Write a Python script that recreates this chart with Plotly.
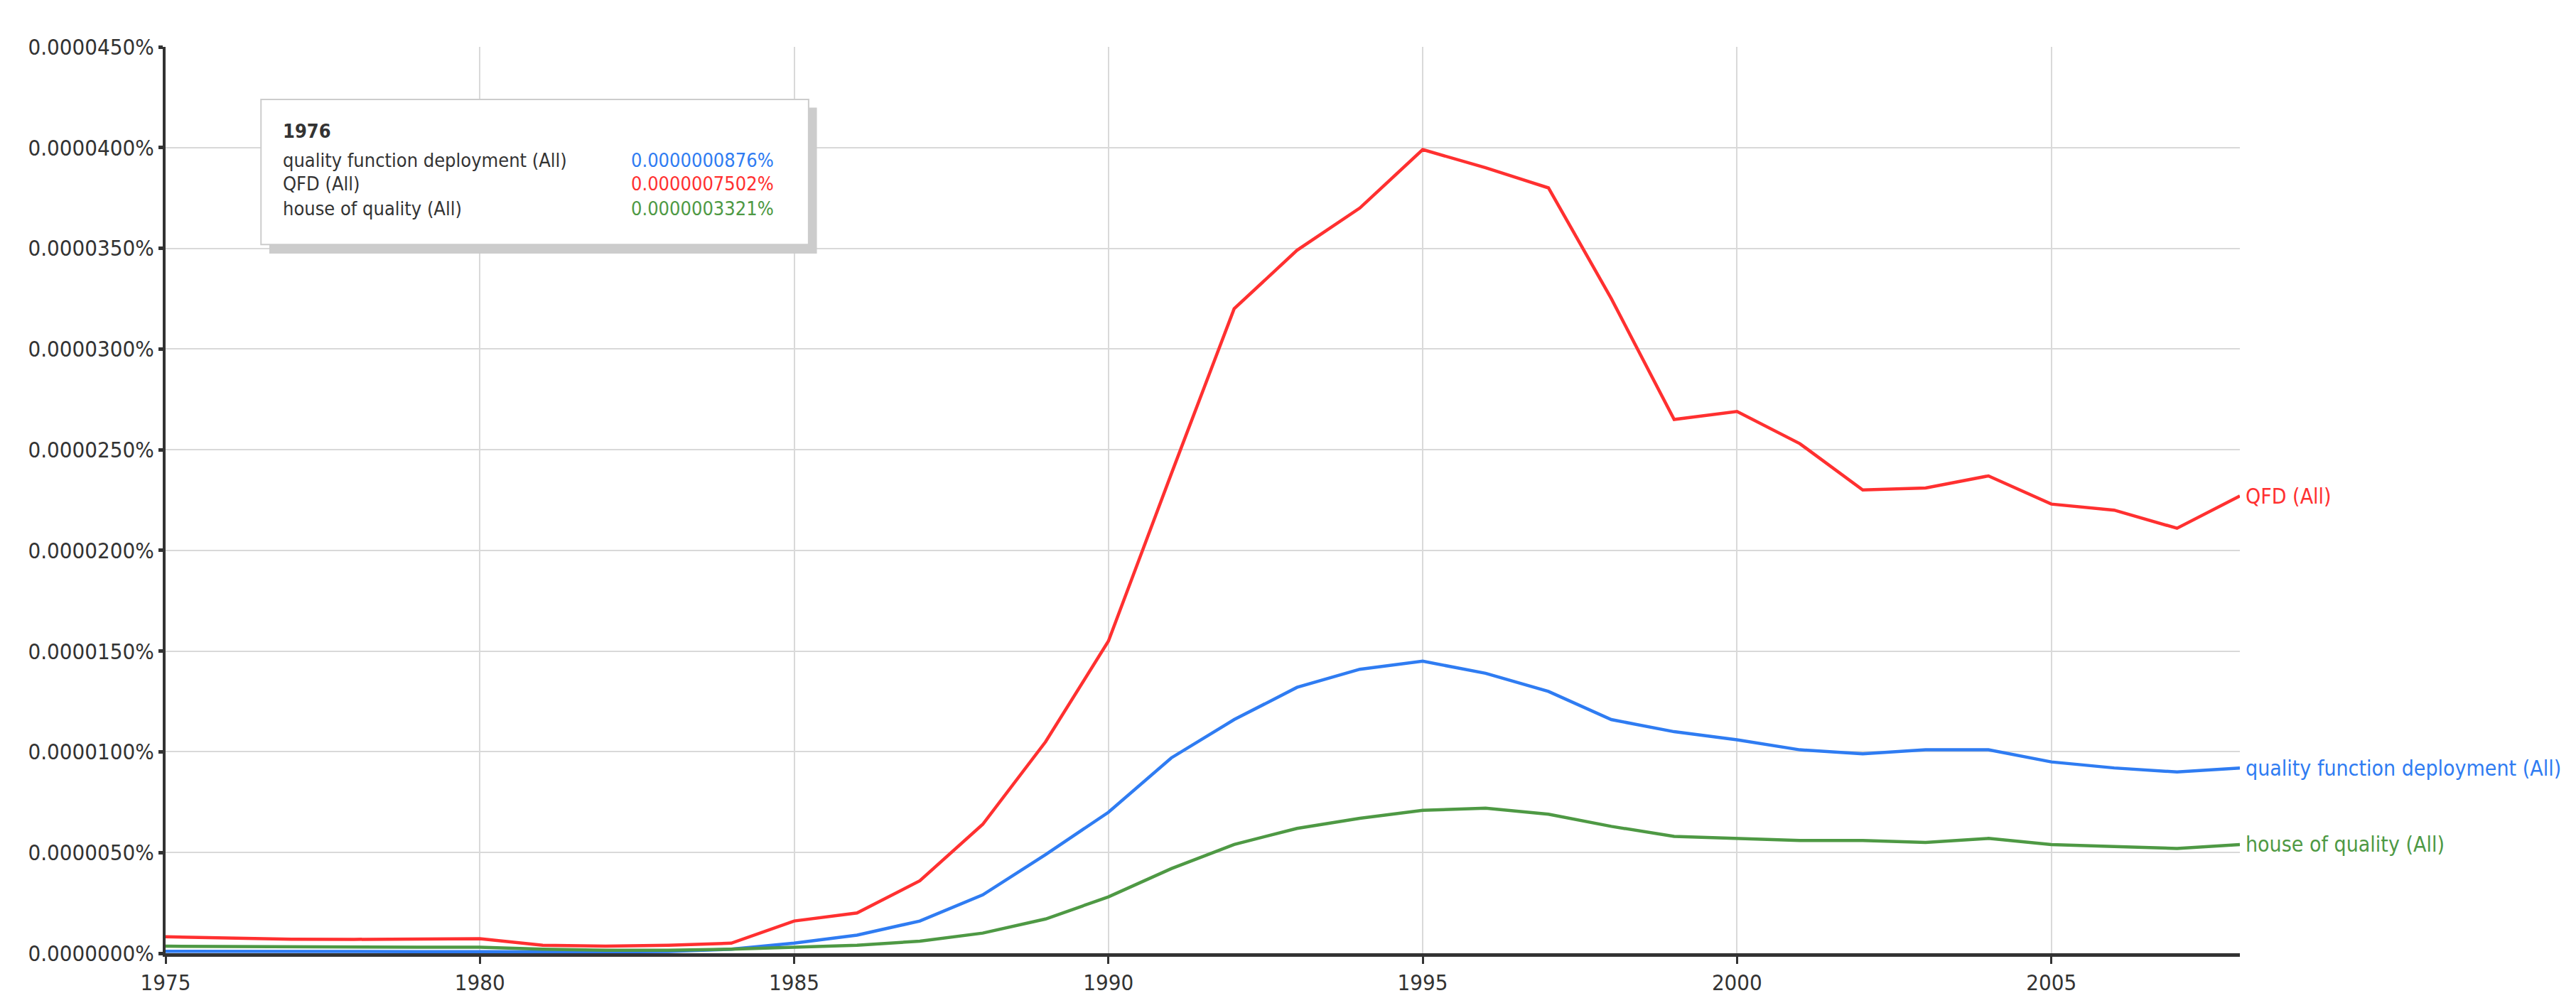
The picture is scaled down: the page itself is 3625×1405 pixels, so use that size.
import plotly.graph_objects as go

years = list(range(1975, 2009))

# values in percent
qfd = [0.00000082, 0.00000075, 0.00000070, 0.00000069, 0.00000070, 0.00000072,
       0.00000040, 0.00000035, 0.00000040, 0.00000050, 0.0000016, 0.0000020,
       0.0000036, 0.0000064, 0.0000105, 0.0000155, 0.0000238, 0.0000320,
       0.0000349, 0.0000370, 0.0000399, 0.0000390, 0.0000380, 0.0000325,
       0.0000265, 0.0000269, 0.0000253, 0.0000230, 0.0000231, 0.0000237,
       0.0000223, 0.0000220, 0.0000211, 0.0000227]
qfd_long = [0.00000010, 0.0000000876, 0.00000008, 0.00000008, 0.00000008, 0.00000008,
            0.00000007, 0.00000007, 0.00000009, 0.00000020, 0.0000005, 0.0000009,
            0.0000016, 0.0000029, 0.0000049, 0.0000070, 0.0000097, 0.0000116,
            0.0000132, 0.0000141, 0.0000145, 0.0000139, 0.0000130, 0.0000116,
            0.0000110, 0.0000106, 0.0000101, 0.0000099, 0.0000101, 0.0000101,
            0.0000095, 0.0000092, 0.0000090, 0.0000092]
hoq = [0.00000035, 0.0000003321, 0.00000031, 0.00000030, 0.00000030, 0.00000030,
       0.00000020, 0.00000015, 0.00000015, 0.00000020, 0.0000003, 0.0000004,
       0.0000006, 0.0000010, 0.0000017, 0.0000028, 0.0000042, 0.0000054,
       0.0000062, 0.0000067, 0.0000071, 0.0000072, 0.0000069, 0.0000063,
       0.0000058, 0.0000057, 0.0000056, 0.0000056, 0.0000055, 0.0000057,
       0.0000054, 0.0000053, 0.0000052, 0.0000054]

names = ["quality function deployment (All)", "QFD (All)", "house of quality (All)"]
series = [qfd_long, qfd, hoq]
colors = ["#2f7cf2", "#ff3030", "#4e9944"]
tip_values = ["0.0000000876%", "0.0000007502%", "0.0000003321%"]

FONT = "DejaVu Sans Condensed, Liberation Sans, Arial, sans-serif"

fig = go.Figure()
for name, ys, c in zip(names, series, colors):
    fig.add_trace(go.Scatter(x=years, y=ys, mode="lines", name=name,
                             line=dict(color=c, width=4.5), showlegend=False))
    fig.add_annotation(x=years[-1], y=ys[-1], xref="x", yref="y", text=name,
                       showarrow=False, xanchor="left", xshift=6,
                       font=dict(color=c, size=30, family=FONT))

# tooltip box with shadow
fig.add_shape(type="rect", xref="paper", yref="paper", x0=0.050, x1=0.314,
              y0=0.772, y1=0.933, fillcolor="#cccccc", line=dict(width=0), layer="above")
fig.add_shape(type="rect", xref="paper", yref="paper", x0=0.046, x1=0.310,
              y0=0.782, y1=0.942, fillcolor="white", line=dict(color="#cccccc", width=2),
              layer="above")
fig.add_annotation(xref="paper", yref="paper", x=0.056, y=0.907, text="<b>1976</b>",
                   showarrow=False, xanchor="left", yanchor="middle",
                   font=dict(size=27, color="#333", family=FONT))
for i, (name, val, c) in enumerate(zip(names, tip_values, colors)):
    yy = [0.875, 0.849, 0.822][i]
    fig.add_annotation(xref="paper", yref="paper", x=0.056, y=yy, text=name,
                       showarrow=False, xanchor="left", yanchor="middle",
                       font=dict(size=27, color="#333", family=FONT))
    fig.add_annotation(xref="paper", yref="paper", x=0.294, y=yy, text=val,
                       showarrow=False, xanchor="right", yanchor="middle",
                       font=dict(size=27, color=c, family=FONT))

fig.update_layout(
    width=3625, height=1405,
    margin=dict(l=225, r=481, t=58, b=68),
    plot_bgcolor="white", paper_bgcolor="white",
    font=dict(family=FONT, size=31, color="#333"),
    xaxis=dict(range=[1975, 2008], tickvals=list(range(1975, 2009, 5)),
               showgrid=True, gridcolor="#d9d9d9", gridwidth=2,
               showline=True, linecolor="#333", linewidth=5,
               ticks="outside", ticklen=10, tickwidth=3, tickcolor="#333",
               zeroline=False),
    yaxis=dict(range=[0, 0.000045], dtick=0.000005, tickformat=".7f", ticksuffix="%",
               showgrid=True, gridcolor="#d9d9d9", gridwidth=2,
               showline=True, linecolor="#333", linewidth=4,
               ticks="outside", ticklen=6, tickwidth=5, tickcolor="#333",
               zeroline=False),
)

fig.write_html("out.html")
